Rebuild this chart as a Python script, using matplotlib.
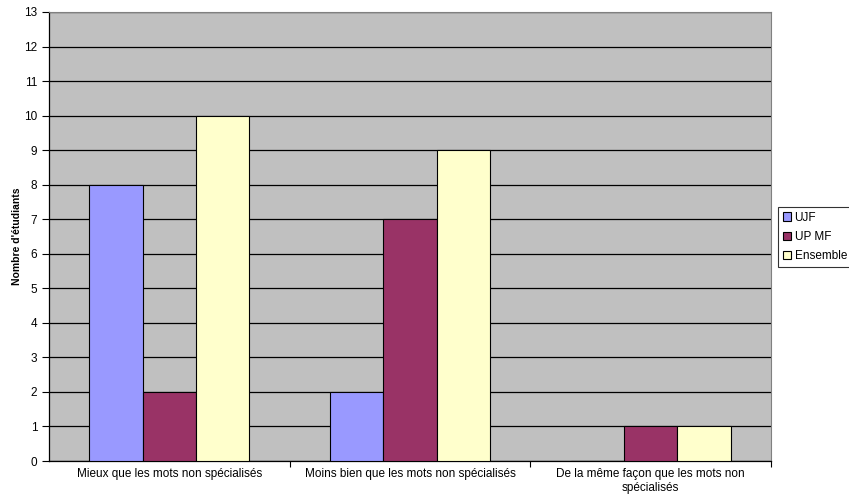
import numpy as np
import matplotlib.pyplot as plt

categories = ['Mieux que les mots non spécialisés',
              'Moins bien que les mots non spécialisés',
              'De la même façon que les mots non\nspécialisés']
ujf = [8, 2, 0]
upmf = [2, 7, 1]
ensemble = [10, 9, 1]
series_names = ['UJF', 'UP MF', 'Ensemble']
colors = ['#9999FF', '#993366', '#FFFFCC']

plt.rcParams['font.family'] = ['Liberation Sans', 'DejaVu Sans']

fig = plt.figure(figsize=(8.49, 5.04), dpi=100)
ax = fig.add_axes([49 / 849, 43 / 504, 722 / 849, 449 / 504])
ax.set_facecolor('#C0C0C0')

x = np.arange(len(categories))
w = 0.222
for i, (vals, name, c) in enumerate(zip([ujf, upmf, ensemble], series_names, colors)):
    ax.bar(x + (i - 1) * w, vals, w, color=c, edgecolor='black', linewidth=0.8,
           label=name, zorder=3)

ax.set_xlim(-0.5, 2.5)
ax.set_ylim(0, 13)
ax.set_yticks(range(0, 14))
ax.yaxis.grid(True, color='black', linewidth=0.9, zorder=1)
ax.tick_params(axis='y', labelsize=8.5, length=5, width=0.8, direction='out')

ax.set_xticks(x)
ax.set_xticklabels(categories, fontsize=8.5)
ax.tick_params(axis='x', which='major', length=0, pad=5)
ax.set_xticks([0.5, 1.5, 2.5], minor=True)
ax.tick_params(axis='x', which='minor', length=4, width=0.8, direction='out')

for side in ['top', 'right']:
    ax.spines[side].set_color('#808080')
ax.spines['left'].set_linewidth(0.9)
ax.spines['bottom'].set_linewidth(0.9)

fig.text(17 / 849, 1 - 236 / 504, "Nombre d'étudiants", fontsize=7.5,
         fontweight='bold', rotation=90, ha='center', va='center')

leg = fig.legend(loc='upper left', bbox_to_anchor=(778 / 849, 1 - 207 / 504),
                 fontsize=8.5, frameon=True, fancybox=False, edgecolor='black',
                 handlelength=0.7, handleheight=0.7, handletextpad=0.3,
                 borderpad=0.4, labelspacing=0.6, borderaxespad=0)
leg.get_frame().set_linewidth(0.8)

plt.savefig('out.png', dpi=100)
